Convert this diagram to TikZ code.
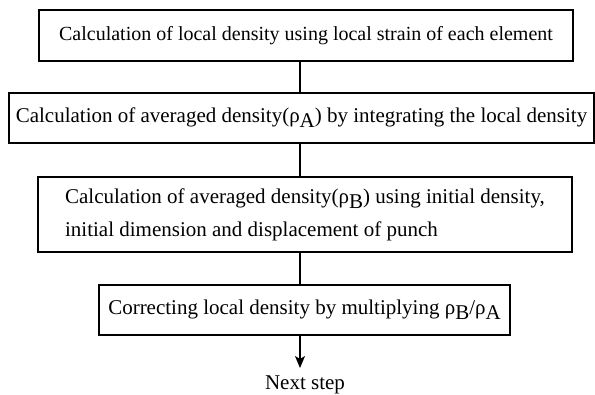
\documentclass[tikz,border=0pt]{standalone}
\usepackage{fontspec}
\setmainfont{Liberation Serif}
\usetikzlibrary{arrows.meta}
\newcommand{\lsub}[1]{\raisebox{-5pt}{#1}}
\newcommand{\rh}{ρ}
\begin{document}
\begin{tikzpicture}[x=1pt,y=-1pt,
  stepbox/.style={draw,line width=1.3pt,inner sep=0pt,align=center,font=\fontsize{21}{33}\selectfont},
  conn/.style={line width=1.3pt}]
\useasboundingbox (0,0) rectangle (595,394);
\node[stepbox,minimum width=534pt,minimum height=51pt,font=\fontsize{20}{33}\selectfont] (b1) at (306,35.5)
  {Calculation of local density using local strain of each element};
\node[stepbox,minimum width=585pt,minimum height=50pt] (b2) at (301.5,118)
  {Calculation of averaged density(\rh\lsub{A}) by integrating the local density};
\node[stepbox,minimum width=534pt,minimum height=75pt,align=left] (b3) at (305,214.5)
  {Calculation of averaged density(\rh\lsub{B}) using initial density,\\initial dimension and displacement of punch};
\node[stepbox,minimum width=411pt,minimum height=50pt] (b4) at (304.5,310)
  {Correcting local density by multiplying \rh\lsub{B}/\rh\lsub{A}};
\coordinate (cx) at (300,0);
\node[font=\fontsize{21}{21}\selectfont,inner sep=0pt] (next) at (305,385) {Next step};
\coordinate (tip) at (300,368);
\draw[conn] (b1.south -| cx) -- (b2.north -| cx);
\draw[conn] (b2.south -| cx) -- (b3.north -| cx);
\draw[conn] (b3.south -| cx) -- (b4.north -| cx);
\draw[conn,-{Stealth[length=12pt,width=10pt,inset=3pt]}] (b4.south -| cx) -- (tip);
\end{tikzpicture}
\end{document}
